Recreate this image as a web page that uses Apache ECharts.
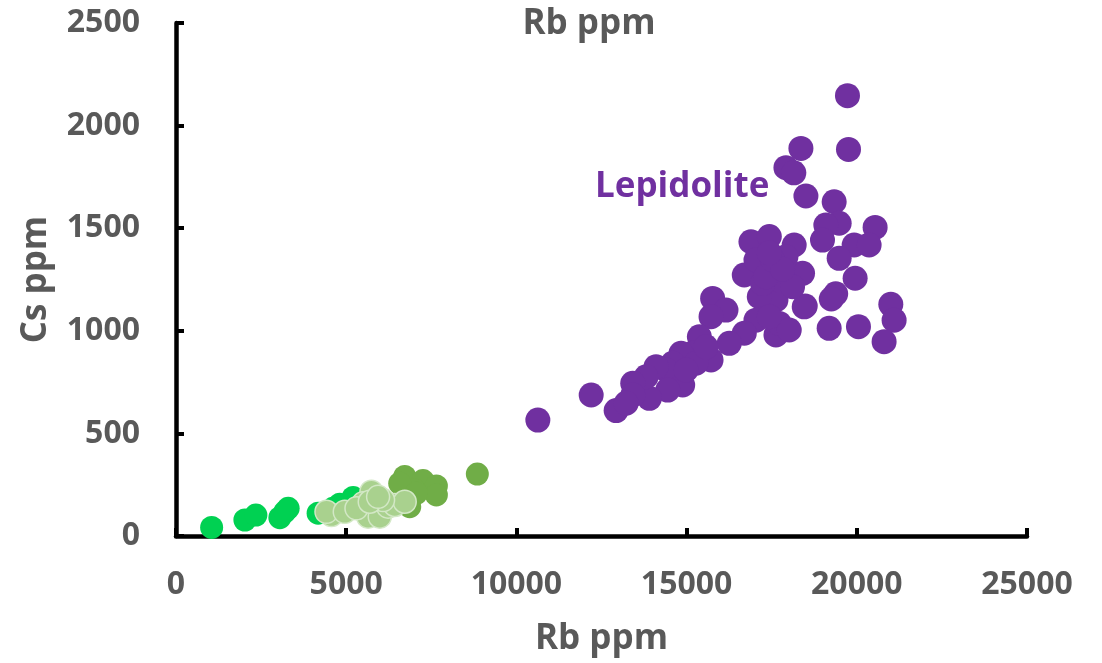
<!DOCTYPE html>
<html>
<head>
<meta charset="utf-8">
<script src="https://cdn.jsdelivr.net/npm/echarts@6/dist/echarts.min.js"></script>
<style>html,body{margin:0;padding:0;background:#fff}#c{width:1102px;height:663px}</style>
</head>
<body>
<div id="c"></div>
<script>
// Rb ppm (x), Cs ppm (y)
var brightGreen = [
  [1047,42],[2024,78],[2347,102],[3051,89],[3198,118],[3295,135],
  [4175,111],[4615,135],[4812,155],[5204,188],[5252,180]
];
var darkGreen = [
  [6719,290],[7256,270],[7649,244],[7649,200],[6866,143],[7012,224],
  [6572,257],[7062,208],[8852,302]
];
var lightGreen = [
  [4568,102],[4421,118],[4958,118],[5741,216],[5496,159],[5839,135],
  [5643,94],[5986,94],[6230,143],[6426,151],[6719,167],[6083,175],
  [5302,135],[5692,167],[5937,191]
];
var lepidolite = [
  [10630,565],[12197,687],[12930,611],[19726,2146],[19756,1884],[18358,1889],
  [17918,1795],[18150,1770],[18505,1657],[19335,1629],[19482,1524],[19090,1515],
  [20538,1504],[18992,1442],[19922,1418],[20362,1418],[19482,1353],[19951,1256],
  [19380,1180],[19250,1155],[18485,1121],[19188,1012],[20049,1020],[20999,1129],
  [21096,1052],[20802,947],[17625,980],
  [16890,1434],[17430,1459],[18160,1418],[16694,1272],[18406,1280],[15765,1158],
  [16157,1101],[15718,1069],[18455,1117],[17625,1150],[17135,1166],[17526,1329],
  [17723,1247],[17233,1231],[17918,1361],[17038,1345],[17723,1036],[17038,1052],
  [18015,1004],[17429,1069],[16694,988],[16254,939],[18112,1215],[17330,1264],
  [17526,1345],[17818,1300],[17430,1380],
  [15718,858],[15375,971],[15178,890],[14837,890],[14592,842],[14397,809],
  [14885,736],[14445,711],[14103,825],[13907,671],[13810,776],[13418,744],
  [13418,687],[13224,647],[15277,842],[15570,922],[14984,809]
];
var xTicks = {min:0, max:25000, interval:5000};
var yTicks = {min:0, max:2500, interval:500};

var FONT = '"Open Sans", "Liberation Sans", sans-serif';
var GREY = '#595959';
var chart = echarts.init(document.getElementById('c'), null, {renderer:'canvas'});
var axisCommon = {
  splitLine:{show:false},
  axisLine:{show:true, onZero:false, lineStyle:{color:'#000', width:4.5}},
  axisTick:{show:true, inside:true, length:8, lineStyle:{color:'#000', width:4}},
  nameTextStyle:{color:GREY, fontFamily:FONT, fontWeight:'bold', fontSize:35},
  axisLabel:{color:GREY, fontFamily:FONT, fontWeight:'bold', fontSize:32,
             formatter:function(v){return String(v);}}
};
chart.setOption({
  animation:false,
  backgroundColor:'#fff',
  grid:{left:176, right:75, top:23, bottom:127, containLabel:false, outerBoundsMode:'none'},
  xAxis:Object.assign({}, axisCommon, {
    type:'value', min:xTicks.min, max:xTicks.max, interval:xTicks.interval,
    name:'Rb ppm', nameLocation:'middle', nameGap:86,
    axisLabel:Object.assign({}, axisCommon.axisLabel, {margin:33})
  }),
  yAxis:Object.assign({}, axisCommon, {
    type:'value', min:yTicks.min, max:yTicks.max, interval:yTicks.interval,
    name:'Cs ppm', nameLocation:'middle', nameGap:122, nameRotate:90,
    axisLabel:Object.assign({}, axisCommon.axisLabel, {margin:36})
  }),
  graphic:[
    {type:'text', x:589, y:24, style:{text:'Rb ppm', fill:GREY, font:'bold 35px ' + FONT, textAlign:'center', textVerticalAlign:'middle'}},
    {type:'text', x:595, y:187, style:{text:'Lepidolite', fill:'#7030A0', font:'bold 35px ' + FONT, textAlign:'left', textVerticalAlign:'middle'}}
  ],
  series:[
    {type:'scatter', data:lepidolite, symbolSize:25, itemStyle:{color:'#7030A0', opacity:1}},
    {type:'scatter', data:brightGreen, symbolSize:23, itemStyle:{color:'#00D152', opacity:1}},
    {type:'scatter', data:darkGreen, symbolSize:23, itemStyle:{color:'#70AD47', opacity:1}},
    {type:'scatter', data:lightGreen, symbolSize:23, itemStyle:{color:'#A9D18E', borderColor:'#D3E8C6', borderWidth:1.5, opacity:1}}
  ]
});
</script>
</body>
</html>
